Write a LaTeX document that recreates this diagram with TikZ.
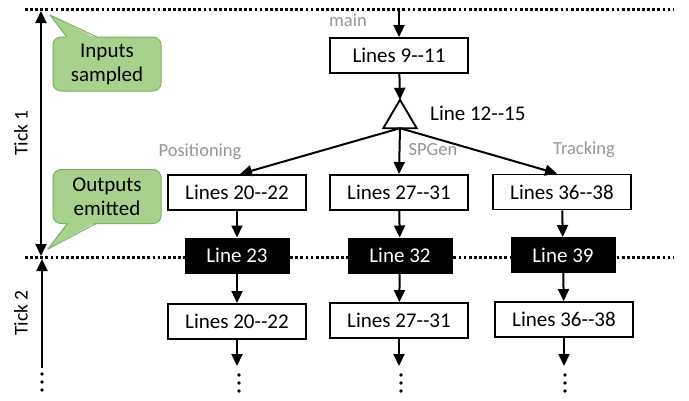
\documentclass[tikz,border=0pt]{standalone}
\usepackage{fontspec}
\setmainfont{Carlito}
\usetikzlibrary{arrows.meta}
\definecolor{lblgray}{RGB}{150,150,150}
\definecolor{calfill}{RGB}{169,209,142}
\definecolor{caldraw}{RGB}{125,178,95}
\newcommand{\dd}{-\kern0pt-}
\begin{document}
\begin{tikzpicture}[x=1pt,y=-1pt,
  txt/.style={font=\fontsize{21}{24}\selectfont},
  box/.style={txt, draw, line width=1.9pt, fill=white, minimum width=138pt, minimum height=35pt, inner sep=0pt},
  blk/.style={txt, draw, fill=black, text=white, line width=1pt, minimum width=104pt, minimum height=35pt, inner sep=0pt},
  lbl/.style={text=lblgray, font=\fontsize{18.5}{22}\selectfont, inner sep=0pt},
  ticklbl/.style={font=\fontsize{19.5}{22}\selectfont, rotate=90, inner sep=0pt},
  conn/.style={line width=2pt, -{Triangle[length=12pt,width=11pt]}},
  dbl/.style={line width=2pt, {Triangle[length=12pt,width=11pt]}-{Triangle[length=12pt,width=11pt]}},
  sep/.style={line width=3pt, dash pattern=on 2.8pt off 2.3pt},
  callbox/.style={txt, draw=caldraw, fill=calfill, line width=1pt, rounded corners=8pt, minimum width=108pt, minimum height=54pt, inner sep=0pt, align=center},
  dot/.style={fill=black, circle, inner sep=0pt, minimum size=3.6pt}
]
\useasboundingbox (0,0) rectangle (689,400);
\fill[white] (0,0) rectangle (689,400);

% tick separators
\coordinate (tl) at (25,9);
\coordinate (tr) at (673,9);
\coordinate (bl) at (25,257);
\coordinate (br) at (673,257);
\draw[sep] (tl) -- (tr);
\draw[sep] (bl) -- (br);

% tick arrows
\coordinate (t1a) at (41,11);
\coordinate (t1b) at (41,256);
\coordinate (t2a) at (42,368);
\coordinate (t2b) at (42,259);
\draw[dbl] (t1a) -- (t1b);
\draw[conn] (t2a) -- (t2b);
\node[ticklbl] (tick1) at (21,133) {Tick 1};
\node[ticklbl] (tick2) at (21,313) {Tick 2};
\node[dot] (td1) at (42,374) {};
\node[dot] (td2) at (42,382) {};
\node[dot] (td3) at (42,390) {};

% callouts
\node[callbox] (cin) at (107,64) {Inputs\\sampled};
\coordinate (cintip) at (50,15);
\fill[calfill] (67,38.6) -- (cintip) -- (97,38.6) -- cycle;
\draw[caldraw, line width=1pt, line join=round] (67,37) -- (cintip) -- (97,37);

\node[callbox] (cout) at (107,196.5) {Outputs\\emitted};
\coordinate (couttip) at (48,249);
\fill[calfill] (68,221.4) -- (couttip) -- (97,221.4) -- cycle;
\draw[caldraw, line width=1pt, line join=round] (68,223) -- (couttip) -- (97,223);

% main
\node[lbl] (mainlbl) at (348,20) {main};
\coordinate (mtop) at (399,9);
\node[box] (m) at (399,55.5) {Lines 9\dd11};
\node[inner sep=0pt, minimum width=33pt, minimum height=28pt] (tri) at (400,114) {};
\draw[line width=1.9pt, line join=miter] (tri.north) -- (tri.south east) -- (tri.south west) -- cycle;
\node[txt, anchor=west, inner sep=0pt] (trilbl) at (430,113) {Line 12\dd15};
\draw[conn] (mtop) -- (m);
\draw[conn] (m) -- (tri.north);

% labels
\node[lbl] (pos) at (200,152) {Positioning};
\node[lbl] (spg) at (433,150) {SPGen};
\node[lbl] (trk) at (584,150) {Tracking};

% row 1
\node[box] (b1) at (237,192.5) {Lines 20\dd22};
\node[box] (b2) at (399,192.5) {Lines 27\dd31};
\node[box] (b3) at (562,192) {Lines 36\dd38};
\draw[conn] (tri.south) -- ([xshift=3pt]b1.north);
\draw[conn] (tri.south) -- (b2.north);
\draw[conn] (tri.south) -- ([xshift=-5pt]b3.north);

% black boxes
\node[blk] (k1) at (237,255.5) {Line 23};
\node[blk] (k2) at (400,255.5) {Line 32};
\node[blk] (k3) at (563,255) {Line 39};
\draw[conn] (b1) -- (k1);
\draw[conn] (b2) -- (k2);
\draw[conn] (b3) -- (k3);

% row 2
\node[box] (c1) at (237,321.5) {Lines 20\dd22};
\node[box] (c2) at (399,320.5) {Lines 27\dd31};
\node[box] (c3) at (564,319.5) {Lines 36\dd38};
\draw[conn] (k1) -- (c1);
\draw[conn] (k2) -- (c2);
\draw[conn] (k3) -- (c3);

\coordinate (e1) at (237,366);
\coordinate (e2) at (399,366);
\coordinate (e3) at (564,366);
\draw[conn] (c1) -- (e1);
\draw[conn] (c2) -- (e2);
\draw[conn] (c3) -- (e3);

\foreach \x/\n in {239/a,401/b,565/c}{
  \node[dot] (d1\n) at (\x,375) {};
  \node[dot] (d2\n) at (\x,383) {};
  \node[dot] (d3\n) at (\x,391) {};
}
\end{tikzpicture}
\end{document}
